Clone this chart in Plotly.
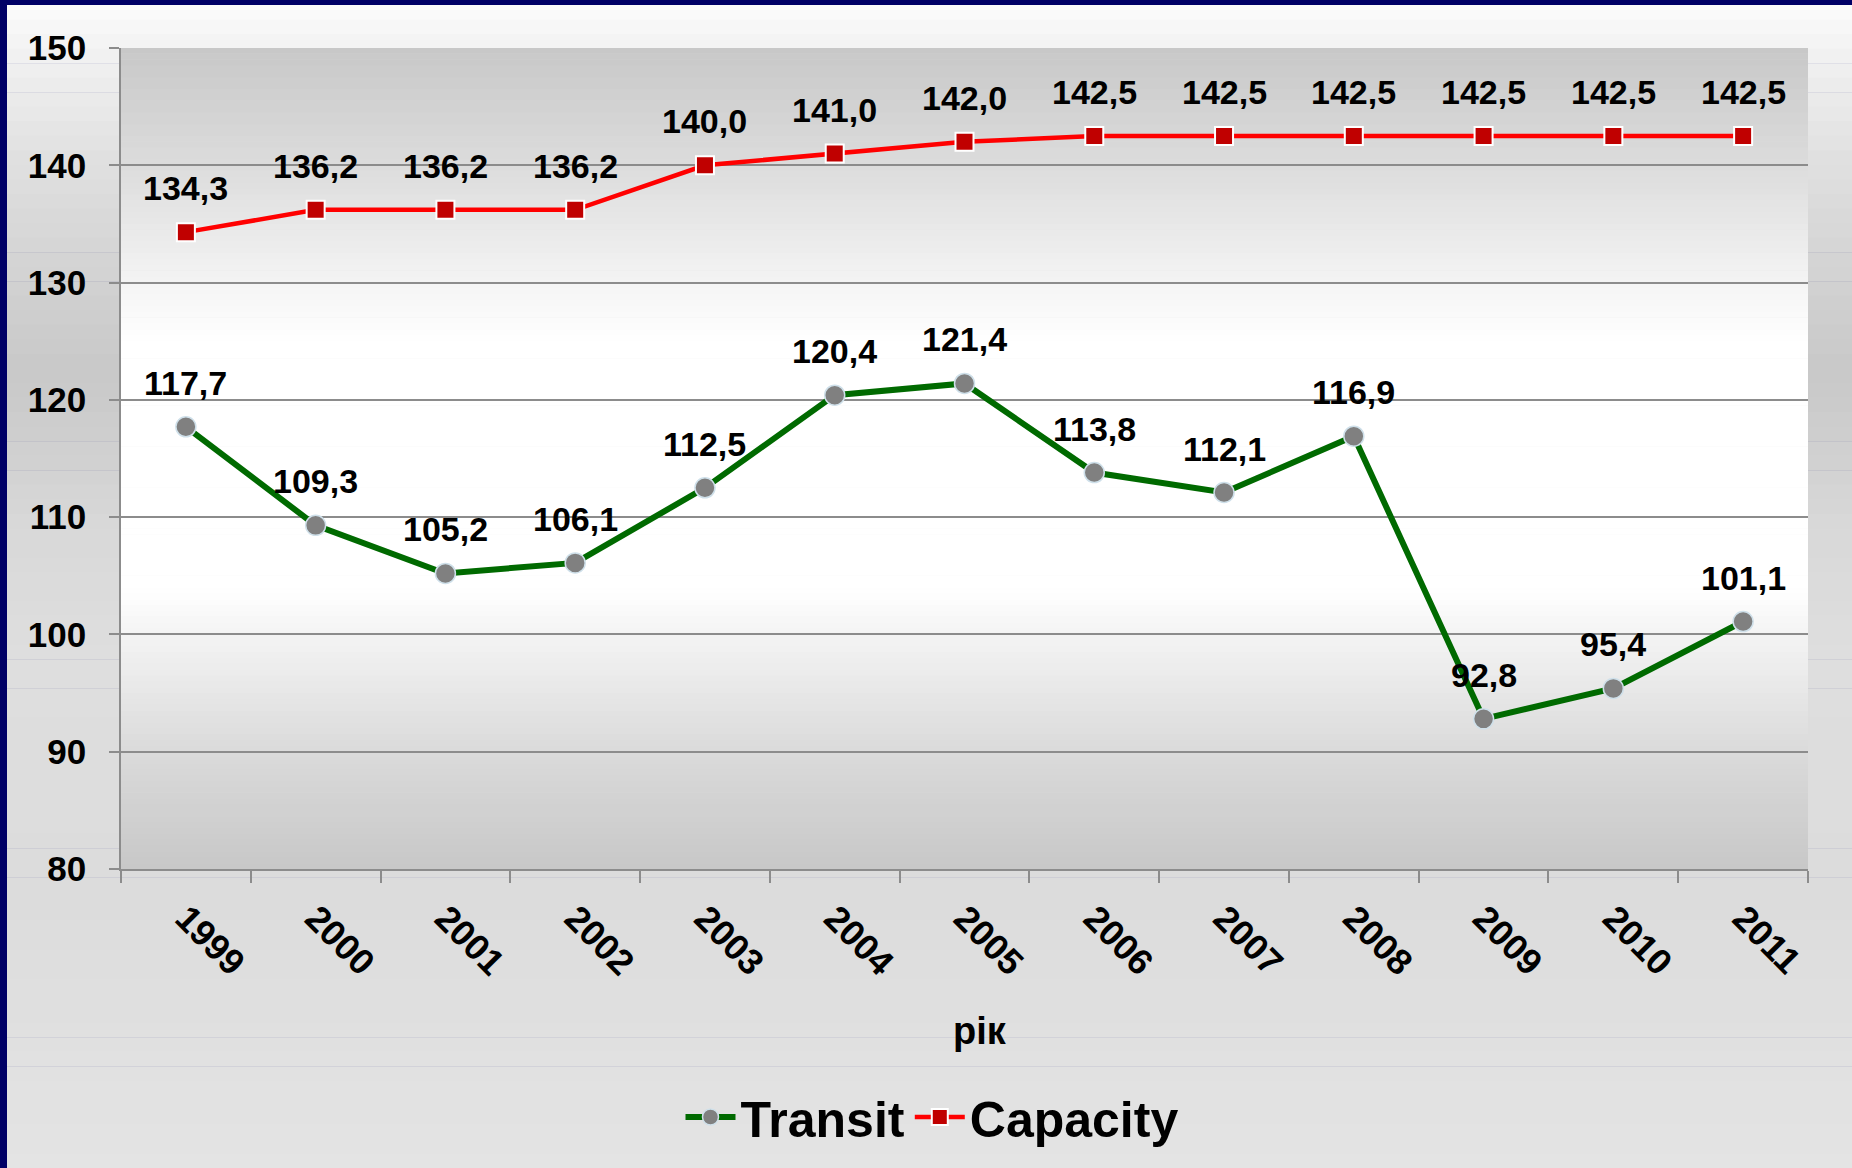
import plotly.graph_objects as go

years = ["1999", "2000", "2001", "2002", "2003", "2004", "2005",
         "2006", "2007", "2008", "2009", "2010", "2011"]
transit = [117.7, 109.3, 105.2, 106.1, 112.5, 120.4, 121.4,
           113.8, 112.1, 116.9, 92.8, 95.4, 101.1]
capacity = [134.3, 136.2, 136.2, 136.2, 140.0, 141.0, 142.0,
            142.5, 142.5, 142.5, 142.5, 142.5, 142.5]
y_ticks = [80, 90, 100, 110, 120, 130, 140, 150]
x_title = "рік"

W, H = 1852, 1168
ML, MR, MT, MB = 121, 44, 48, 299
PW, PH = W - ML - MR, H - MT - MB
FONT = "Liberation Sans, Arial, sans-serif"


def fmt(v):
    return f"{v:.1f}".replace(".", ",")


def lerp_color(stops, t):
    for (t0, c0), (t1, c1) in zip(stops[:-1], stops[1:]):
        if t0 <= t <= t1:
            f = 0 if t1 == t0 else (t - t0) / (t1 - t0)
            g = round(c0 + (c1 - c0) * f)
            return "rgb(%d,%d,%d)" % (g, g, g)
    g = stops[-1][1]
    return "rgb(%d,%d,%d)" % (g, g, g)


def px2paper_x(px):
    return (px - ML) / PW


def px2paper_y(py):
    return (H - MB - py) / PH


shapes = []

# page background gradient (by pixel row)
page_stops = [(0, 252), (50, 242), (160, 224), (280, 210), (370, 200), (450, 208),
              (520, 216), (650, 222), (900, 220), (1168, 228)]
n = 80
for i in range(n):
    y0 = 5 + (H - 5) * i / n
    y1 = 5 + (H - 5) * (i + 1) / n
    shapes.append(dict(type="rect", xref="paper", yref="paper", layer="below",
                       x0=px2paper_x(7), x1=px2paper_x(W + 2),
                       y0=px2paper_y(y0), y1=px2paper_y(y1 + 0.6),
                       line=dict(width=0),
                       fillcolor=lerp_color(page_stops, (y0 + y1) / 2)))

# plot-area gradient (by value)
plot_stops = [(80, 200), (90, 218), (100, 244), (104, 255), (125, 255), (130, 244),
              (140, 220), (150, 200)]
m = 140
for i in range(m):
    v0 = 80 + 70 * i / m
    v1 = 80 + 70 * (i + 1) / m
    shapes.append(dict(type="rect", xref="x domain", yref="y", layer="below",
                       x0=0, x1=1, y0=v0, y1=v1 + 0.05, line=dict(width=0),
                       fillcolor=lerp_color(plot_stops, (v0 + v1) / 2)))

fig = go.Figure()
fig.add_trace(go.Scatter(
    x=years, y=transit, name="Transit", mode="lines+markers",
    line=dict(color="#006a00", width=6),
    marker=dict(symbol="circle", size=20, color="#808080",
                line=dict(color="#cfe0ea", width=1.5)),
))
fig.add_trace(go.Scatter(
    x=years, y=capacity, name="Capacity", mode="lines+markers",
    line=dict(color="#ff0000", width=4.5),
    marker=dict(symbol="square", size=18, color="#c00000",
                line=dict(color="#ffffff", width=2)),
))

annotations = []
for series in (transit, capacity):
    for i, v in enumerate(series):
        annotations.append(dict(x=i, y=v, xref="x", yref="y", text="<b>%s</b>" % fmt(v),
                                showarrow=False, yshift=44, yanchor="middle",
                                font=dict(family=FONT, size=34, color="black")))
annotations.append(dict(x=px2paper_x(980), y=px2paper_y(1031), xref="paper", yref="paper",
                        text="<b>%s</b>" % x_title, showarrow=False, yanchor="middle",
                        font=dict(family=FONT, size=38, color="black")))

fig.update_layout(
    width=W, height=H,
    margin=dict(l=ML, r=MR, t=MT, b=MB, autoexpand=False),
    paper_bgcolor="#000066",
    plot_bgcolor="rgba(0,0,0,0)",
    shapes=shapes,
    annotations=annotations,
    showlegend=True,
    legend=dict(orientation="h", x=px2paper_x(932), xanchor="center",
                y=px2paper_y(1117), yanchor="middle",
                font=dict(family=FONT, size=50, color="black", weight="bold"),
                bgcolor="rgba(0,0,0,0)", tracegroupgap=0, itemwidth=50),
    font=dict(family=FONT, color="black"),
)
fig.update_xaxes(
    type="category", categoryorder="array", categoryarray=years,
    range=[-0.5, len(years) - 0.5],
    showline=True, linecolor="#8c8c8c", linewidth=1.5,
    ticks="outside", tickson="boundaries", ticklen=12, tickcolor="#8c8c8c", tickwidth=1.5,
    tickangle=45, ticklabelstandoff=12,
    tickfont=dict(family=FONT, size=36, color="black", weight="bold"),
    showgrid=False, zeroline=False,
)
fig.update_yaxes(
    range=[80, 150], tickvals=y_ticks, ticktext=[str(t) for t in y_ticks],
    showline=True, linecolor="#8c8c8c", linewidth=1.5,
    ticks="outside", ticklen=10, tickcolor="#8c8c8c", tickwidth=1.5,
    ticklabelstandoff=16,
    tickfont=dict(family=FONT, size=35, color="black", weight="bold"),
    showgrid=True, gridcolor="#8c8c8c", gridwidth=1.5, zeroline=False,
)

fig.write_html("out.html", config={"displayModeBar": False},
               post_script="document.body.style.margin='0';document.body.style.overflow='hidden';")
